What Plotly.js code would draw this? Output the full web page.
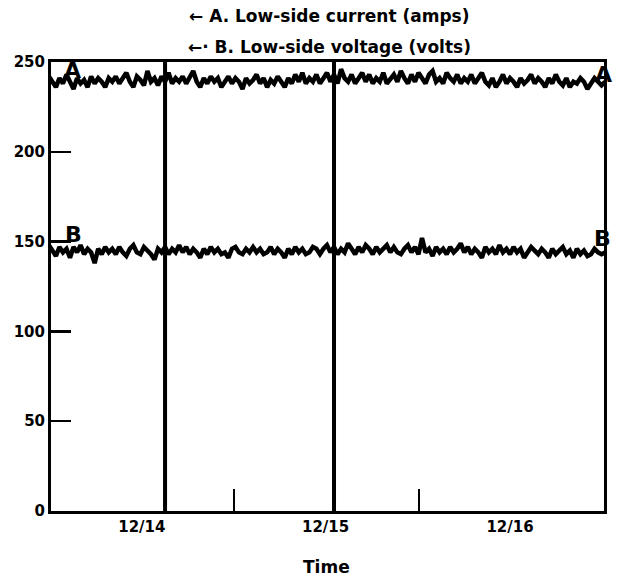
<!DOCTYPE html>
<html>
<head>
<meta charset="utf-8">
<script src="https://cdn.plot.ly/plotly-3.0.1.min.js"></script>
<style>html,body{margin:0;padding:0;background:#fff;}#chart{width:620px;height:580px;}</style>
</head>
<body>
<div id="chart"></div>
<script>
// Time axis in hours (12/14 00:00 = hour 24)
const startHour = 6.5;
const stepHours = 0.5;

// A. Low-side current (amps)
const currentA = [
243,238,242,239,236,241,238,243,239,235,241,238,240,236,242,238,241,239,236,241,
239,242,238,241,244,239,236,242,240,237,245,239,241,237,242,239,244,238,241,239,
242,238,241,245,239,236,241,238,242,239,241,236,239,242,238,241,239,235,241,238,
240,243,238,241,236,240,238,242,239,236,241,238,243,239,244,238,241,239,243,238,
241,244,239,243,238,246,241,239,243,238,241,244,239,243,238,241,239,244,238,241,
243,239,245,241,238,243,239,244,241,238,243,245,239,241,238,244,241,239,243,238,
241,239,243,238,241,244,239,237,241,236,239,243,238,241,239,236,241,238,240,243,
238,241,239,236,241,238,243,239,237,241,236,239,238,241,239,235,238,241,239,237,
239];

// B. Low-side voltage (volts)
const voltageB = [
147,144,148,145,142,147,144,146,141,147,144,148,143,146,144,138,146,143,147,144,
146,143,147,144,142,146,148,144,143,147,145,143,140,146,144,147,143,146,144,148,
144,147,143,146,144,141,146,143,147,144,146,143,144,141,146,147,144,143,146,144,
147,144,146,143,144,147,143,146,144,141,146,143,147,144,146,143,144,147,146,143,
146,148,144,147,143,146,144,149,146,143,147,144,148,146,143,147,144,146,148,144,
147,144,143,146,148,144,147,143,152,144,146,142,147,144,146,143,147,144,146,149,
144,147,143,146,144,141,147,144,146,143,148,144,146,143,147,144,146,141,144,147,
145,143,146,144,141,146,143,145,147,143,145,141,146,143,145,142,143,146,144,143,
144];

// Day boundaries (midnight), in hours
const dayBoundaries = [24, 48];
// Tick labels and their positions (hours)
const tickHours = [20.7, 46.8, 73.0];
const tickLabels = ['12/14', '12/15', '12/16'];
const minorTickHours = [33.8, 60.1];
const yTicks = [0, 50, 100, 150, 200, 250];

const hours = currentA.map((_, i) => startHour + i * stepHours);

const traces = [
  {x: hours, y: currentA, type: 'scatter', mode: 'lines', line: {color: '#000', width: 4.5}, hoverinfo: 'skip'},
  {x: hours, y: voltageB, type: 'scatter', mode: 'lines', line: {color: '#000', width: 4.5}, hoverinfo: 'skip'}
];
dayBoundaries.forEach(h => traces.push({
  x: [h, h], y: [0, 250], type: 'scatter', mode: 'lines', line: {color: '#000', width: 4}, hoverinfo: 'skip'
}));

const F = 'DejaVu Sans, sans-serif';
const layout = {
  width: 620, height: 580,
  margin: {l: 51, r: 16, t: 62, b: 69},
  paper_bgcolor: '#fff', plot_bgcolor: '#fff',
  showlegend: false,
  font: {family: F, color: '#000', size: 15, weight: 'bold'},
  xaxis: {
    range: [7.8, 86.35], showgrid: false, zeroline: false,
    showline: true, linecolor: '#000', linewidth: 3, mirror: true,
    tickvals: tickHours, ticktext: tickLabels, ticks: '',
    tickfont: {family: F, size: 15, weight: 'bold', color: '#000'},
    minor: {tickvals: minorTickHours, ticks: 'inside', ticklen: 22, tickwidth: 2.5, tickcolor: '#000', showgrid: false}
  },
  yaxis: {
    range: [0, 250], showgrid: false, zeroline: false,
    showline: true, linecolor: '#000', linewidth: 3, mirror: true,
    tickvals: yTicks, ticks: 'inside', ticklen: 20, tickwidth: 2.5, tickcolor: '#000',
    tickfont: {family: F, size: 15, weight: 'bold', color: '#000'}
  },
  annotations: [
    {xref: 'paper', yref: 'paper', x: 0.503, y: 1.102, yanchor: 'middle', text: '\u2190 A. Low-side current (amps)', showarrow: false, font: {family: F, size: 17, weight: 'bold'}},
    {xref: 'paper', yref: 'paper', x: 0.503, y: 1.033, yanchor: 'middle', text: '\u2190\u00b7 B. Low-side voltage (volts)', showarrow: false, font: {family: F, size: 17, weight: 'bold'}},
    {xref: 'paper', yref: 'paper', x: 0.499, y: -0.125, yanchor: 'middle', text: 'Time', showarrow: false, font: {family: F, size: 17, weight: 'bold'}},
    {xref: 'paper', yref: 'paper', x: 0.02, y: 0.982, yanchor: 'middle', text: 'A', showarrow: false, font: {family: F, size: 22, weight: 'bold'}},
    {xref: 'paper', yref: 'paper', x: 0.022, y: 0.615, yanchor: 'middle', text: 'B', showarrow: false, font: {family: F, size: 22, weight: 'bold'}},
    {xref: 'paper', yref: 'paper', x: 1.018, y: 0.973, yanchor: 'middle', text: 'A', showarrow: false, font: {family: F, size: 22, weight: 'bold'}},
    {xref: 'paper', yref: 'paper', x: 1.016, y: 0.606, yanchor: 'middle', text: 'B', showarrow: false, font: {family: F, size: 22, weight: 'bold'}}
  ]
};

Plotly.newPlot('chart', traces, layout, {displayModeBar: false, staticPlot: true});
</script>
</body>
</html>
